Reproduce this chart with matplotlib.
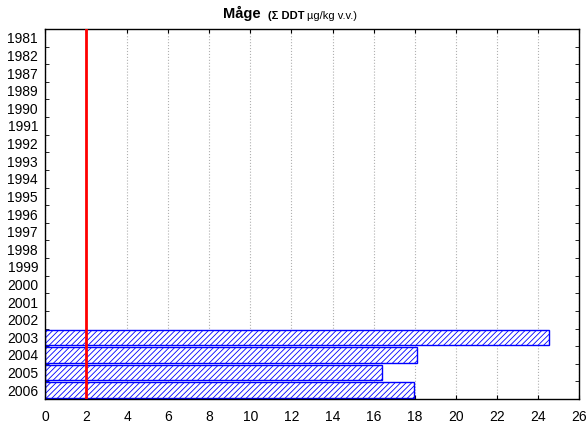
import matplotlib
matplotlib.use("Agg")
import matplotlib.pyplot as plt
import numpy as np

plt.rcParams["font.family"] = ["Liberation Sans", "DejaVu Sans"]
plt.rcParams["hatch.linewidth"] = 0.6
plt.rcParams["hatch.color"] = "blue"

# Årstal og værdier (Σ DDT, µg/kg v.v.)
years = ["1981", "1982", "1987", "1989", "1990", "1991", "1992", "1993",
         "1994", "1995", "1996", "1997", "1998", "1999", "2000", "2001",
         "2002", "2003", "2004", "2005", "2006"]
values = [np.nan] * 17 + [24.55, 18.12, 16.42, 17.95]
limit = 2

fig = plt.figure(figsize=(5.87, 4.23), dpi=100)
ax = fig.add_axes([45 / 587, 24 / 423, 534 / 587, 370 / 423])

y = np.arange(len(years))
ax.barh(y, values, height=0.88, color="white", edgecolor="blue",
        hatch="//////", linewidth=1.0, zorder=2)

ax.axvline(limit, color="red", linewidth=2, zorder=3)

ax.set_xlim(0, 26)
ax.set_ylim(len(years) - 0.5, -0.5)
ax.set_xticks(np.arange(0, 27, 2))
ax.set_yticks(y)
ax.set_yticklabels(years)
ax.set_yticks(np.arange(-0.5, len(years), 1), minor=True)
ax.tick_params(axis="y", which="major", length=0, labelsize=10, pad=5)
ax.tick_params(axis="y", which="minor", direction="in", length=3,
               left=True, right=True)
ax.tick_params(axis="x", direction="in", length=3, top=True, labelsize=10, pad=8)

ax.grid(axis="x", color="#b0b0b0", linestyle=":", linewidth=0.8, zorder=0)
for s in ax.spines.values():
    s.set_linewidth(1.0)

# Titel i flere dele, sat efter hinanden
t1 = fig.text(223 / 587, 1 - 18 / 423, "Måge", fontsize=10.5,
              fontweight="bold", ha="left", va="baseline")
t2 = ax.annotate("(Σ DDT", xy=(1, 0), xycoords=t1, xytext=(5, 0),
                 textcoords="offset points", fontsize=8, fontweight="bold",
                 ha="left", va="bottom", annotation_clip=False)
ax.annotate("µg/kg v.v.)", xy=(1, 0), xycoords=t2, xytext=(2, 0),
            textcoords="offset points", fontsize=8,
            ha="left", va="bottom", annotation_clip=False)

fig.savefig("out.png", dpi=100)
